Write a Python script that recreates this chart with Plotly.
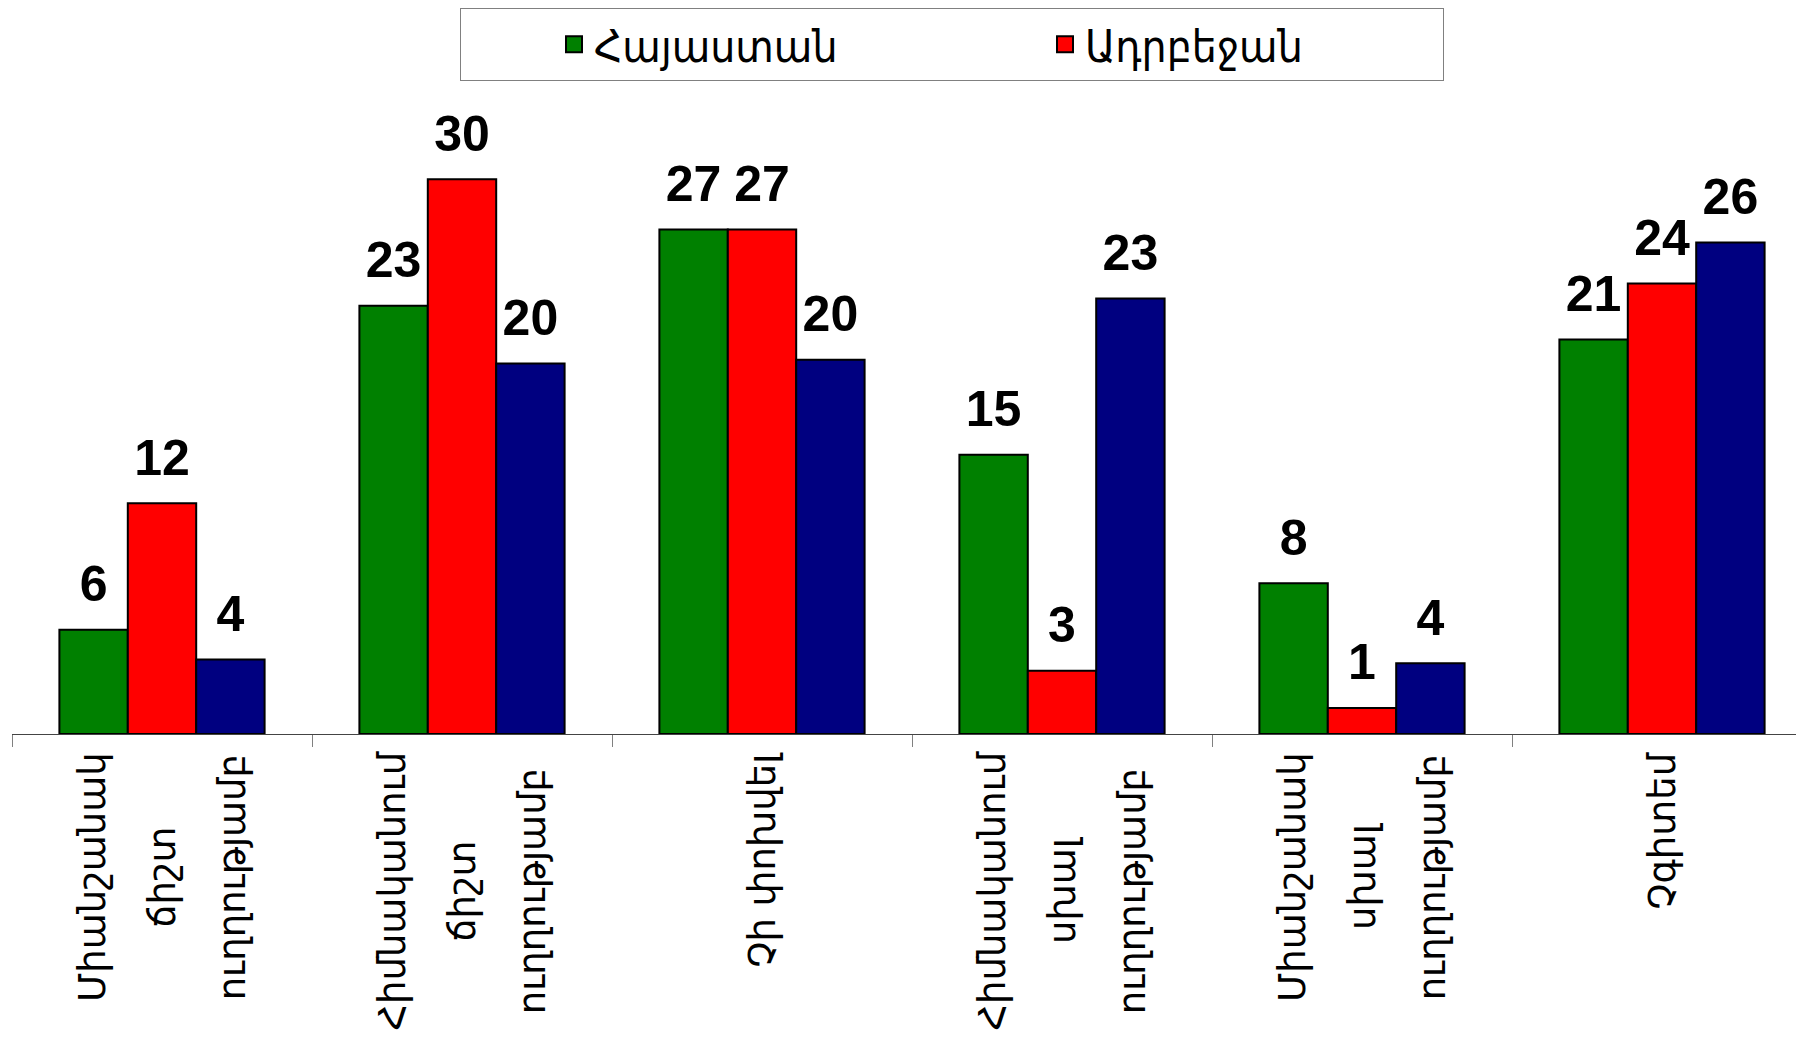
import plotly.graph_objects as go

# categories (x axis)
categories = [
    "Միանշանակ<br>ճիշտ<br>ուղղությամբ",
    "Հիմնականում<br>ճիշտ<br>ուղղությամբ",
    "Չի փոխվել",
    "Հիմնականում<br>սխալ<br>ուղղությամբ",
    "Միանշանակ<br>սխալ<br>ուղղությամբ",
    "Չգիտեմ",
]

# series values (% of respondents)
armenia = [5.6, 23.0, 27.1, 15.0, 8.1, 21.2]
azerbaijan = [12.4, 29.8, 27.1, 3.4, 1.4, 24.2]
third = [4.0, 19.9, 20.1, 23.4, 3.8, 26.4]

series_names = ["Հայաստան", "Ադրբեջան", None]
colors = ["#008000", "#FF0000", "#000080"]

bar_w = 0.228
label_font = dict(family="Liberation Sans, Arial", size=50, color="black", weight="bold")
tick_font = "DejaVu Sans"

pos = list(range(len(categories)))

fig = go.Figure()

for k, (vals, col) in enumerate(zip([armenia, azerbaijan, third], colors)):
    off = (k - 1.5) * bar_w
    fig.add_trace(go.Bar(
        x=pos, y=vals, width=bar_w, offset=off,
        marker=dict(color=col, line=dict(color="black", width=2)),
        showlegend=False, hoverinfo="y",
    ))
    # value labels above bars
    fig.add_trace(go.Scatter(
        x=[p + off + bar_w / 2 for p in pos], y=vals,
        mode="markers+text", text=[f"{v:.0f}" for v in vals],
        textposition="top center", textfont=label_font,
        marker=dict(size=24, color="rgba(0,0,0,0)"),
        cliponaxis=False, showlegend=False, hoverinfo="skip",
    ))

# legend entries (only two series are listed in the original legend)
for name, col in zip(series_names[:2], colors[:2]):
    fig.add_trace(go.Scatter(
        x=[None], y=[None], mode="markers", name=name,
        marker=dict(symbol="square", size=16, color=col, line=dict(color="black", width=2)),
    ))

# category labels, rotated
for p, cat in zip(pos, categories):
    txt = "<br>".join(f"<span style='font-size:37px'>{line}</span>" for line in cat.split("<br>"))
    fig.add_annotation(
        x=p, y=0, xref="x", yref="paper", text=txt, showarrow=False,
        textangle=-90, xanchor="center", yanchor="top", yshift=-16, align="center",
        font=dict(family=tick_font, size=54, color="black"),
    )

fig.update_layout(
    width=1804, height=1057,
    margin=dict(l=4, r=0, t=135, b=331),
    paper_bgcolor="white", plot_bgcolor="white",
    barmode="overlay",
    xaxis=dict(
        range=[-0.5, 5.5], showticklabels=False, showgrid=False, zeroline=False,
        tickmode="array", tickvals=[p - 0.5 for p in pos] + [len(pos) - 0.5],
        ticks="outside", ticklen=12, tickcolor="#808080", tickwidth=1,
        showline=True, linecolor="#444444", linewidth=1,
    ),
    yaxis=dict(range=[0, 31.75], visible=False),
    legend=dict(
        orientation="h", x=0.2489, xanchor="left", y=1.228, yanchor="top",
        bordercolor="#808080", borderwidth=1, bgcolor="white",
        font=dict(family="DejaVu Sans Condensed, DejaVu Sans", size=44, color="black"),
        entrywidth=353, entrywidthmode="pixels", indentation=93,
    ),
)

fig.write_html("out.html")
